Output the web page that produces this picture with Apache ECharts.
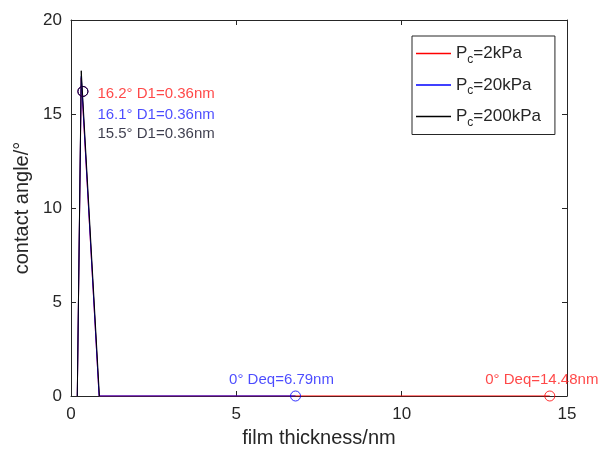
<!DOCTYPE html>
<html>
<head>
<meta charset="utf-8">
<script src="https://cdn.jsdelivr.net/npm/echarts@6/dist/echarts.min.js"></script>
<style>
  html, body { margin: 0; padding: 0; background: #fff; }
  #chart { width: 602px; height: 461px; }
</style>
</head>
<body>
<div id="chart"></div>
<script>
// 曲线数据（膜厚 nm / 接触角 °）
var pressures = ['2kPa', '20kPa', '200kPa'];
var colors = ['#ff0000', '#0000ff', '#000000'];
var thickRed = [0.19, 0.31, 0.85, 14.48];
var angleRed = [0, 16.9, 0, 0];
var thickBlue = [0.19, 0.31, 0.85, 6.79];
var angleBlue = [0, 17.0, 0, 0];
var thickBlack = [0.19, 0.31, 0.86];
var angleBlack = [0, 17.3, 0];

// 标注点
var d1Thick = [0.36, 0.36, 0.36];
var d1Angle = [16.2, 16.1, 15.5];
var d1MarkAngle = [16.2, 16.2, 16.2];
var deqThick = [14.48, 6.79];
var deqAngle = [0, 0];
var xTicks = [0, 5, 10, 15];
var yTicks = [0, 5, 10, 15, 20];

function zip(a, b) {
  return a.map(function (v, i) { return [v, b[i]]; });
}

var font = 'Arial, "Liberation Sans", sans-serif';
var axisColor = '#262626';
var textColors = ['#ff1a1a', '#1e1eff', '#0c0c20'];

var chart = echarts.init(document.getElementById('chart'));
var lineData = [zip(thickRed, angleRed), zip(thickBlue, angleBlue), zip(thickBlack, angleBlack)];

var series = [];
pressures.forEach(function (p, i) {
  series.push({
    name: 'Pc=' + p,
    type: 'line',
    symbol: 'none',
    data: lineData[i],
    lineStyle: { color: colors[i], width: 1 },
    itemStyle: { color: colors[i] },
    z: 2 + i
  });
});

// D1 点
var d1Offsets = [[0, 2], [0, 23], [0, 42]];
series.push({
  type: 'scatter',
  symbol: 'circle',
  symbolSize: 10,
  z: 10,
  data: d1Thick.map(function (t, i) {
    return {
      value: [t, d1MarkAngle[i]],
      itemStyle: { color: 'transparent', borderColor: colors[i], borderWidth: 1 },
      label: {
        show: true,
        position: 'right',
        distance: 9,
        offset: d1Offsets[i],
        formatter: d1Angle[i].toFixed(1) + '\u00b0 D1=' + t.toFixed(2) + 'nm',
        color: textColors[i],
        fontFamily: font,
        fontSize: 15
      }
    };
  })
});

// Deq 点
var deqColors = ['#ff0000', '#0000ff'];
var deqTextColors = ['#ff1a1a', '#1e1eff'];
var deqOffsets = [[-8, -2], [-14, -2]];
series.push({
  type: 'scatter',
  symbol: 'circle',
  symbolSize: 10,
  z: 10,
  data: deqThick.map(function (t, i) {
    return {
      value: [t, deqAngle[i]],
      itemStyle: { color: 'transparent', borderColor: deqColors[i], borderWidth: 1 },
      label: {
        show: true,
        position: 'top',
        distance: 1,
        offset: deqOffsets[i],
        formatter: '0\u00b0 Deq=' + t.toFixed(2) + 'nm',
        color: deqTextColors[i],
        fontFamily: font,
        fontSize: 15
      }
    };
  })
});

var option = {
  animation: false,
  backgroundColor: '#fff',
  grid: { left: 71, right: 35, top: 20, bottom: 65 },
  legend: {
    orient: 'vertical',
    left: 412,
    top: 36,
    width: 140,
    padding: [9, 14, 6, 4],
    itemGap: 11,
    itemWidth: 35,
    itemHeight: 1.6,
    icon: 'rect',
    borderColor: axisColor,
    borderWidth: 1,
    backgroundColor: '#fff',
    data: pressures.map(function (p, i) {
      return { name: 'Pc=' + p, itemStyle: { color: colors[i] } };
    }),
    formatter: function (name) {
      return '{a|P}{b|c}{a|' + name.slice(2) + '}';
    },
    textStyle: {
      fontFamily: font,
      rich: {
        a: { fontFamily: font, fontSize: 17, color: axisColor },
        b: { fontFamily: font, fontSize: 12, color: axisColor, verticalAlign: 'bottom', padding: [12, 0, 0, 0] }
      }
    }
  },
  xAxis: [{
    type: 'value',
    min: 0,
    max: 15,
    interval: 5,
    name: 'film thickness/nm',
    nameLocation: 'middle',
    nameGap: 32,
    nameTextStyle: { fontFamily: font, fontSize: 20, color: axisColor },
    axisLine: { onZero: false, lineStyle: { color: axisColor, width: 1 } },
    axisTick: { inside: true, length: 5, lineStyle: { color: axisColor } },
    axisLabel: { fontFamily: font, fontSize: 17, color: axisColor, margin: 10,
      formatter: function (v) { return xTicks.indexOf(v) >= 0 ? String(v) : ''; } },
    splitLine: { show: false }
  }, {
    type: 'value',
    position: 'top',
    min: 0,
    max: 15,
    interval: 5,
    axisLine: { onZero: false, lineStyle: { color: axisColor, width: 1 } },
    axisTick: { inside: true, length: 5, lineStyle: { color: axisColor } },
    axisLabel: { show: false },
    splitLine: { show: false }
  }],
  yAxis: [{
    type: 'value',
    min: 0,
    max: 20,
    interval: 5,
    name: 'contact angle/\u00b0',
    nameLocation: 'middle',
    nameGap: 27,
    nameTextStyle: { fontFamily: font, fontSize: 20, color: axisColor },
    axisLine: { show: true, onZero: false, lineStyle: { color: axisColor, width: 1 } },
    axisTick: { show: true, inside: true, length: 5, lineStyle: { color: axisColor } },
    axisLabel: { fontFamily: font, fontSize: 17, color: axisColor, margin: 9,
      formatter: function (v) { return yTicks.indexOf(v) >= 0 ? String(v) : ''; } },
    splitLine: { show: false }
  }, {
    type: 'value',
    position: 'right',
    min: 0,
    max: 20,
    interval: 5,
    axisLine: { show: true, onZero: false, lineStyle: { color: axisColor, width: 1 } },
    axisTick: { show: true, inside: true, length: 5, lineStyle: { color: axisColor } },
    axisLabel: { show: false },
    splitLine: { show: false }
  }],
  series: series
};
chart.setOption(option);
</script>
</body>
</html>
